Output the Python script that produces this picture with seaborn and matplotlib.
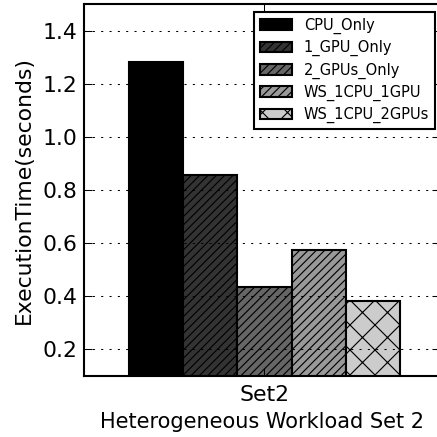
import matplotlib
matplotlib.use("Agg")
import matplotlib.pyplot as plt
import seaborn as sns
import pandas as pd

sets = ["Set2"]
configs = ["CPU_Only", "1_GPU_Only", "2_GPUs_Only", "WS_1CPU_1GPU", "WS_1CPU_2GPUs"]
times = [1.281, 0.856, 0.435, 0.575, 0.381]
colors = ["#000000", "#333333", "#666666", "#999999", "#cccccc"]
hatches = ["", "//////", "//////", "//////", "xx"]

sns.set_style("white")
plt.rcParams['font.family'] = ['DejaVu Sans']
plt.rcParams['hatch.linewidth'] = 0.55
for k in ["text.color", "axes.labelcolor", "xtick.color", "ytick.color", "axes.edgecolor"]:
    plt.rcParams[k] = "black"

df = pd.DataFrame({"set": sets * len(configs), "config": configs, "time": times})

DPI = 150
fig = plt.figure(figsize=(437 / DPI, 437 / DPI), dpi=DPI)
ax = fig.add_axes([84 / 437, 1 - 376 / 437, 356 / 437, 372 / 437])

sns.barplot(data=df, x="set", y="time", hue="config", hue_order=configs,
            palette=colors, width=0.761, edgecolor="black", linewidth=1.0,
            saturation=1, ax=ax, errorbar=None, legend=True)

bars = [p for p in ax.patches if p.get_height() > 0][:len(configs)]
for p, h in zip(bars, hatches):
    p.set_hatch(h)

ax.set_xlim(-0.507, 0.493)
ax.set_ylim(0.1, 1.5)
ax.set_yticks([0.2, 0.4, 0.6, 0.8, 1.0, 1.2, 1.4])
ax.yaxis.grid(True, linestyle=(0, (2, 6)), color="black", linewidth=0.5)
ax.xaxis.grid(False)
ax.set_axisbelow(False)
for s in ax.spines.values():
    s.set_linewidth(1.0)
    s.set_color("black")
ax.tick_params(direction="in", length=4, width=0.5, labelsize=10.5,
               top=True, right=True, bottom=True, left=True)
ax.tick_params(axis="x", pad=4.5)
ax.tick_params(axis="y", pad=3)
ax.set_ylabel("ExecutionTime(seconds)", fontsize=10.5, labelpad=4.4)
ax.set_xlabel("Heterogeneous Workload Set 2", fontsize=10, labelpad=3)

handles, labels = ax.get_legend_handles_labels()
for hd, h in zip(handles, hatches):
    hd.set_hatch(h)
leg = ax.legend(handles, labels, loc="upper right", fontsize=7.0, fancybox=False,
                frameon=True, edgecolor="black", framealpha=1,
                bbox_to_anchor=(435 / 437, 1 - 12 / 437),
                bbox_transform=fig.transFigure, borderaxespad=0,
                handlelength=2.2, handleheight=0.75, handletextpad=0.8,
                labelspacing=0.42, borderpad=0.4)
leg.get_frame().set_linewidth(1.0)

fig.savefig("out.png", dpi=DPI)
